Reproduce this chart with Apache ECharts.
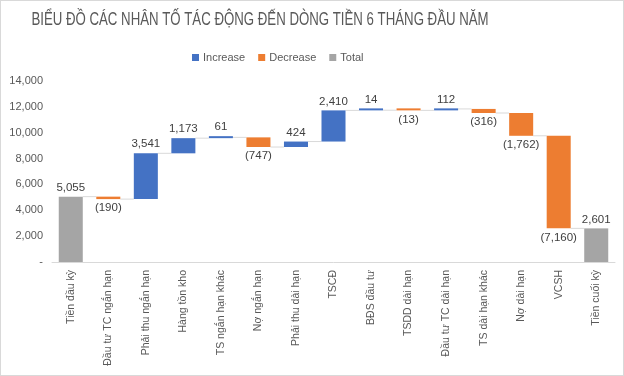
<!DOCTYPE html>
<html><head><meta charset="utf-8">
<script src="https://cdn.jsdelivr.net/npm/echarts@6/dist/echarts.min.js"></script>
<style>html,body{margin:0;padding:0;background:#fff}#c{width:622px;height:374px;border:1px solid #d9d9d9}</style>
</head><body><div id="c"></div>
<script>
const categories = ["Tiền đầu kỳ","Đầu tư TC ngắn hạn","Phải thu ngắn hạn","Hàng tồn kho","TS ngắn hạn khác","Nợ ngắn hạn","Phải thu dài hạn","TSCĐ","BĐS đầu tư","TSDD dài hạn","Đầu tư TC dài hạn","TS dài hạn khác","Nợ dài hạn","VCSH","Tiền cuối kỳ"];
const values = [5055, -190, 3541, 1173, 61, -747, 424, 2410, 14, -13, 112, -316, -1762, -7160, 2601];
const totalFlags = [true,false,false,false,false,false,false,false,false,false,false,false,false,false,true];
const titleText = 'BIỂU ĐỒ CÁC NHÂN TỐ TÁC ĐỘNG ĐẾN DÒNG TIỀN 6 THÁNG ĐẦU NĂM';

const base=[], inc=[], dec=[], tot=[], conn=[];
let run=0;
values.forEach((v,i)=>{
  if(totalFlags[i]){ base.push(0); tot.push(v); inc.push('-'); dec.push('-'); run=v; }
  else if(v>=0){ base.push(run); inc.push(v); dec.push('-'); tot.push('-'); run+=v; }
  else { run+=v; base.push(run); dec.push(-v); inc.push('-'); tot.push('-'); }
  if(i<values.length-1) conn.push([i, totalFlags[i]?v:run]);
});
const fmt = n => Math.abs(n).toLocaleString('en-US');
const FF = 'Liberation Sans, Arial, sans-serif';
const lblStyle = {fontSize:11.5,color:'#404040',fontFamily:FF};
const chart = echarts.init(document.getElementById('c'));
chart.setOption({
  animation:false,
  graphic:[{type:'text',x:259,y:19,scaleX:0.735,silent:true,
    style:{text:titleText,font:'18px Liberation Sans, Arial, sans-serif',fill:'#595959',align:'center',verticalAlign:'middle'}}],
  legend:{top:46,left:186,itemWidth:7,itemHeight:7,itemGap:13,icon:'rect',
    data:['Increase','Decrease','Total'],textStyle:{fontSize:11,color:'#595959',fontFamily:FF,padding:[0,0,0,-1]}},
  grid:{left:51,right:8,top:80,bottom:113,containLabel:false},
  xAxis:{type:'category',data:categories,axisTick:{show:false},
    axisLine:{lineStyle:{color:'#d9d9d9'}},
    axisLabel:{rotate:90,interval:0,margin:8,fontSize:10.5,color:'#595959',fontFamily:FF}},
  yAxis:{type:'value',min:0,max:14000,interval:2000,splitLine:{show:false},axisLine:{show:false},axisTick:{show:false},
    axisLabel:{margin:9,fontSize:11,color:'#595959',fontFamily:FF,
      formatter:v=>v===0?'-':v.toLocaleString('en-US')}},
  series:[
    {name:'base',type:'bar',stack:'w',data:base,itemStyle:{color:'transparent'},barWidth:'64%',silent:true},
    {name:'Increase',type:'bar',stack:'w',data:inc,barMinHeight:2,itemStyle:{color:'#4472C4'},
      label:{show:true,position:'top',distance:3,...lblStyle,formatter:p=>fmt(p.value)}},
    {name:'Decrease',type:'bar',stack:'w',data:dec,barMinHeight:2,itemStyle:{color:'#ED7D31'},
      label:{show:true,position:'bottom',distance:3,...lblStyle,formatter:p=>'('+fmt(p.value)+')'}},
    {name:'Total',type:'bar',stack:'w',data:tot,itemStyle:{color:'#A5A5A5'},
      label:{show:true,position:'top',distance:3,...lblStyle,formatter:p=>fmt(p.value)}},
    {name:'conn',type:'custom',data:conn,silent:true,z:1,
      renderItem:(params,api)=>{
        const p=api.coord([api.value(0),api.value(1)]);
        const w=api.size([1,0])[0];
        const bw=w*0.64;
        return {type:'line',shape:{x1:p[0]+bw/2,y1:p[1],x2:p[0]+w-bw/2,y2:p[1]},style:{stroke:'#d9d9d9',lineWidth:1}};
      }}
  ]
});
</script></body></html>
